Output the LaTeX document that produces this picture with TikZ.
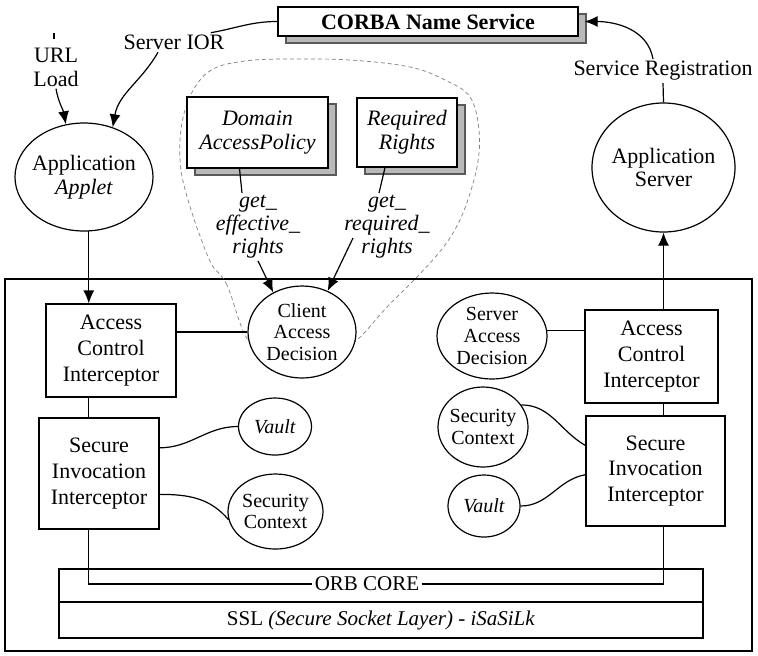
\documentclass[tikz,border=0pt]{standalone}
\usepackage{fontspec}
\setmainfont{Liberation Serif}
\usepackage{tikz}
\usetikzlibrary{shapes.geometric}
\usetikzlibrary{shadows}
\usetikzlibrary{arrows.meta}
\tikzstyle{frame_box} = [rectangle, draw, line width=0.75pt, inner sep=0pt]
\tikzstyle{icpt_box} = [rectangle, draw, fill=white, line width=0.6pt, inner sep=0pt, font=\fontsize{11}{12.8}\selectfont]
\tikzstyle{shadowed} = [drop shadow={shadow xshift=4pt, shadow yshift=-3.5pt, fill=gray!55, draw=gray!70!black, opacity=1}]
\tikzstyle{policy_box} = [icpt_box, shadowed, font=\itshape\fontsize{11}{12}\selectfont]
\tikzstyle{obj_oval} = [ellipse, draw, fill=white, line width=0.6pt, inner sep=-2pt, font=\fontsize{11}{11.7}\selectfont]
\tikzstyle{small_oval} = [obj_oval, font=\fontsize{10}{10.8}\selectfont]
\tikzstyle{orb_layer} = [rectangle, draw, line width=0.6pt, inner sep=0pt, minimum width=322pt, font=\fontsize{10.5}{12}\selectfont]
\tikzstyle{free_text} = [inner sep=1pt, font=\fontsize{11}{12}\selectfont]
\tikzstyle{call_text} = [inner sep=1pt, font=\itshape\fontsize{11}{11.5}\selectfont]
\tikzstyle{conn} = [line width=0.6pt]
\tikzstyle{conn_arr} = [conn, -{Latex[length=6.5pt,width=5.5pt]}]
\tikzstyle{domain_line} = [dash pattern=on 2pt off 1.5pt, line width=0.35pt, gray]
\begin{document}
\begin{tikzpicture}[x=0.5pt, y=-0.5pt, align=center]
    \useasboundingbox (0,0) rectangle (758,655);
    \node (frame)[frame_box, minimum width=373.5pt, minimum height=186pt] at (378.5,465) {};
    \draw [domain_line] plot[smooth cycle, tension=0.6] coordinates {(248,340) (227,285) (212,265) (200,236) (188,200) (181,170) (180,140) (185,110) (197,84) (215,68) (245,61) (283,59) (350,60) (410,67) (445,80) (470,97) (479,130) (477,167) (463,213) (445,245) (417,277) (387,307) (357,340) (330,356) (278,356)};
    \node (ns)[icpt_box, shadowed, font=\bfseries\fontsize{11}{12}\selectfont, minimum width=150pt, minimum height=14.5pt] at (428,21.5) {CORBA Name Service};
    \node (url)[free_text] at (56,67) {URL\\Load};
    \coordinate (url_tick_a) at (54,33);
    \coordinate (url_tick_b) at (54,39);
    \node (sior)[free_text] at (174,42.5) {Server IOR};
    \node (applet)[obj_oval, minimum width=69pt, minimum height=54pt] at (84,177) {Application\\\textit{Applet}};
    \node (svreg)[free_text] at (663,71) {Service Registration};
    \node (appsrv)[obj_oval, minimum width=71.5pt, minimum height=64.5pt] at (663.5,167.5) {Application\\Server};
    \node (dap)[policy_box, minimum width=70.5pt, minimum height=35.5pt] at (257.5,132.5) {Domain\\AccessPolicy};
    \node (rr)[policy_box, minimum width=50pt, minimum height=34.5pt] at (407,132.5) {Required\\Rights};
    \node (geteff)[call_text] at (258,227) {get\_\\effective\_\\rights};
    \node (getreq)[call_text] at (387,227) {get\_\\required\_\\rights};
    \node (aci_c)[icpt_box, minimum width=65pt, minimum height=46.5pt] at (111,350.5) {Access\\Control\\Interceptor};
    \node (sii_c)[icpt_box, minimum width=60pt, minimum height=55.5pt] at (99,473.5) {Secure\\Invocation\\Interceptor};
    \node (cad)[small_oval, minimum width=54pt, minimum height=46pt] at (302,332) {Client\\Access\\Decision};
    \node (vault_c)[small_oval, minimum width=36.5pt, minimum height=28.5pt] at (275,426.5) {\textit{Vault}};
    \node (sctx_c)[small_oval, minimum width=47.5pt, minimum height=37.5pt] at (275.5,511.5) {Security\\Context};
    \node (sad)[small_oval, minimum width=55pt, minimum height=43pt] at (492,336) {Server\\Access\\Decision};
    \node (aci_s)[icpt_box, minimum width=66.5pt, minimum height=46.5pt] at (651.5,356.5) {Access\\Control\\Interceptor};
    \node (sii_s)[icpt_box, minimum width=69.5pt, minimum height=55pt] at (655.5,471) {Secure\\Invocation\\Interceptor};
    \node (sctx_s)[small_oval, minimum width=45pt, minimum height=40pt] at (483,427) {Security\\Context};
    \node (vault_s)[small_oval, minimum width=36pt, minimum height=31pt] at (484,506) {\textit{Vault}};
    \node (orb)[orb_layer, minimum height=16.5pt] at (381,585.5) {};
    \node (ssl)[orb_layer, minimum height=18pt] at (381,620) {SSL \textit{(Secure Socket Layer) - iSaSiLk}};
    \node (orbtxt)[free_text, font=\fontsize{10.5}{12}\selectfont] at (367,584) {ORB CORE};
    \draw [conn] (url_tick_a) -- (url_tick_b);
    \draw [conn_arr] (url.south) to[out=-80, in=100] (applet.109);
    \draw [conn] (ns.west) to[out=180, in=10] ([xshift=-8pt]sior.north east);
    \draw [conn_arr] ([xshift=-8pt]sior.south) to[out=-120, in=80] (applet.60);
    \draw [conn_arr] ([xshift=-5pt]svreg.north) to[out=100, in=0] ([xshift=3pt]ns.east);
    \draw [conn] (svreg.south) -- (appsrv.north);
    \draw [conn] ([xshift=-9pt]dap.south) -- ([xshift=-8pt]geteff.north);
    \draw [conn_arr] (geteff.south) -- (cad.126);
    \draw [conn] ([xshift=-11pt]rr.south) -- ([xshift=-4pt]getreq.north);
    \draw [conn_arr] ([shift={(-17pt,-5.5pt)}]getreq.center) -- (cad.58);
    \draw [conn_arr] (applet.-85) -- (applet.-85 |- aci_c.north);
    \draw [conn] (cad.west) -- (cad.west -| aci_c.east);
    \draw [conn] (aci_c.south -| applet.-85) -- (sii_c.north -| applet.-85);
    \draw [conn] (sii_c.23) to[out=0, in=180] (vault_c.west);
    \draw [conn] (sii_c.-19) to[out=0, in=130] (sctx_c.190);
    \draw [conn] (sii_c.south -| applet.-85) |- (orbtxt.west);
    \draw [conn] (orbtxt.east) -| (sii_s.south -| appsrv.south);
    \draw [conn_arr] (appsrv.south |- aci_s.north) -- (appsrv.south);
    \draw [conn] (aci_s.south -| appsrv.south) -- (sii_s.north -| appsrv.south);
    \draw [conn] (sad.6) -- (sad.6 -| aci_s.west);
    \draw [conn] (sctx_s.30) to[out=0, in=150] (sii_s.160);
    \draw [conn] (vault_s.east) to[out=0, in=190] (sii_s.183);
\end{tikzpicture}
\end{document}
